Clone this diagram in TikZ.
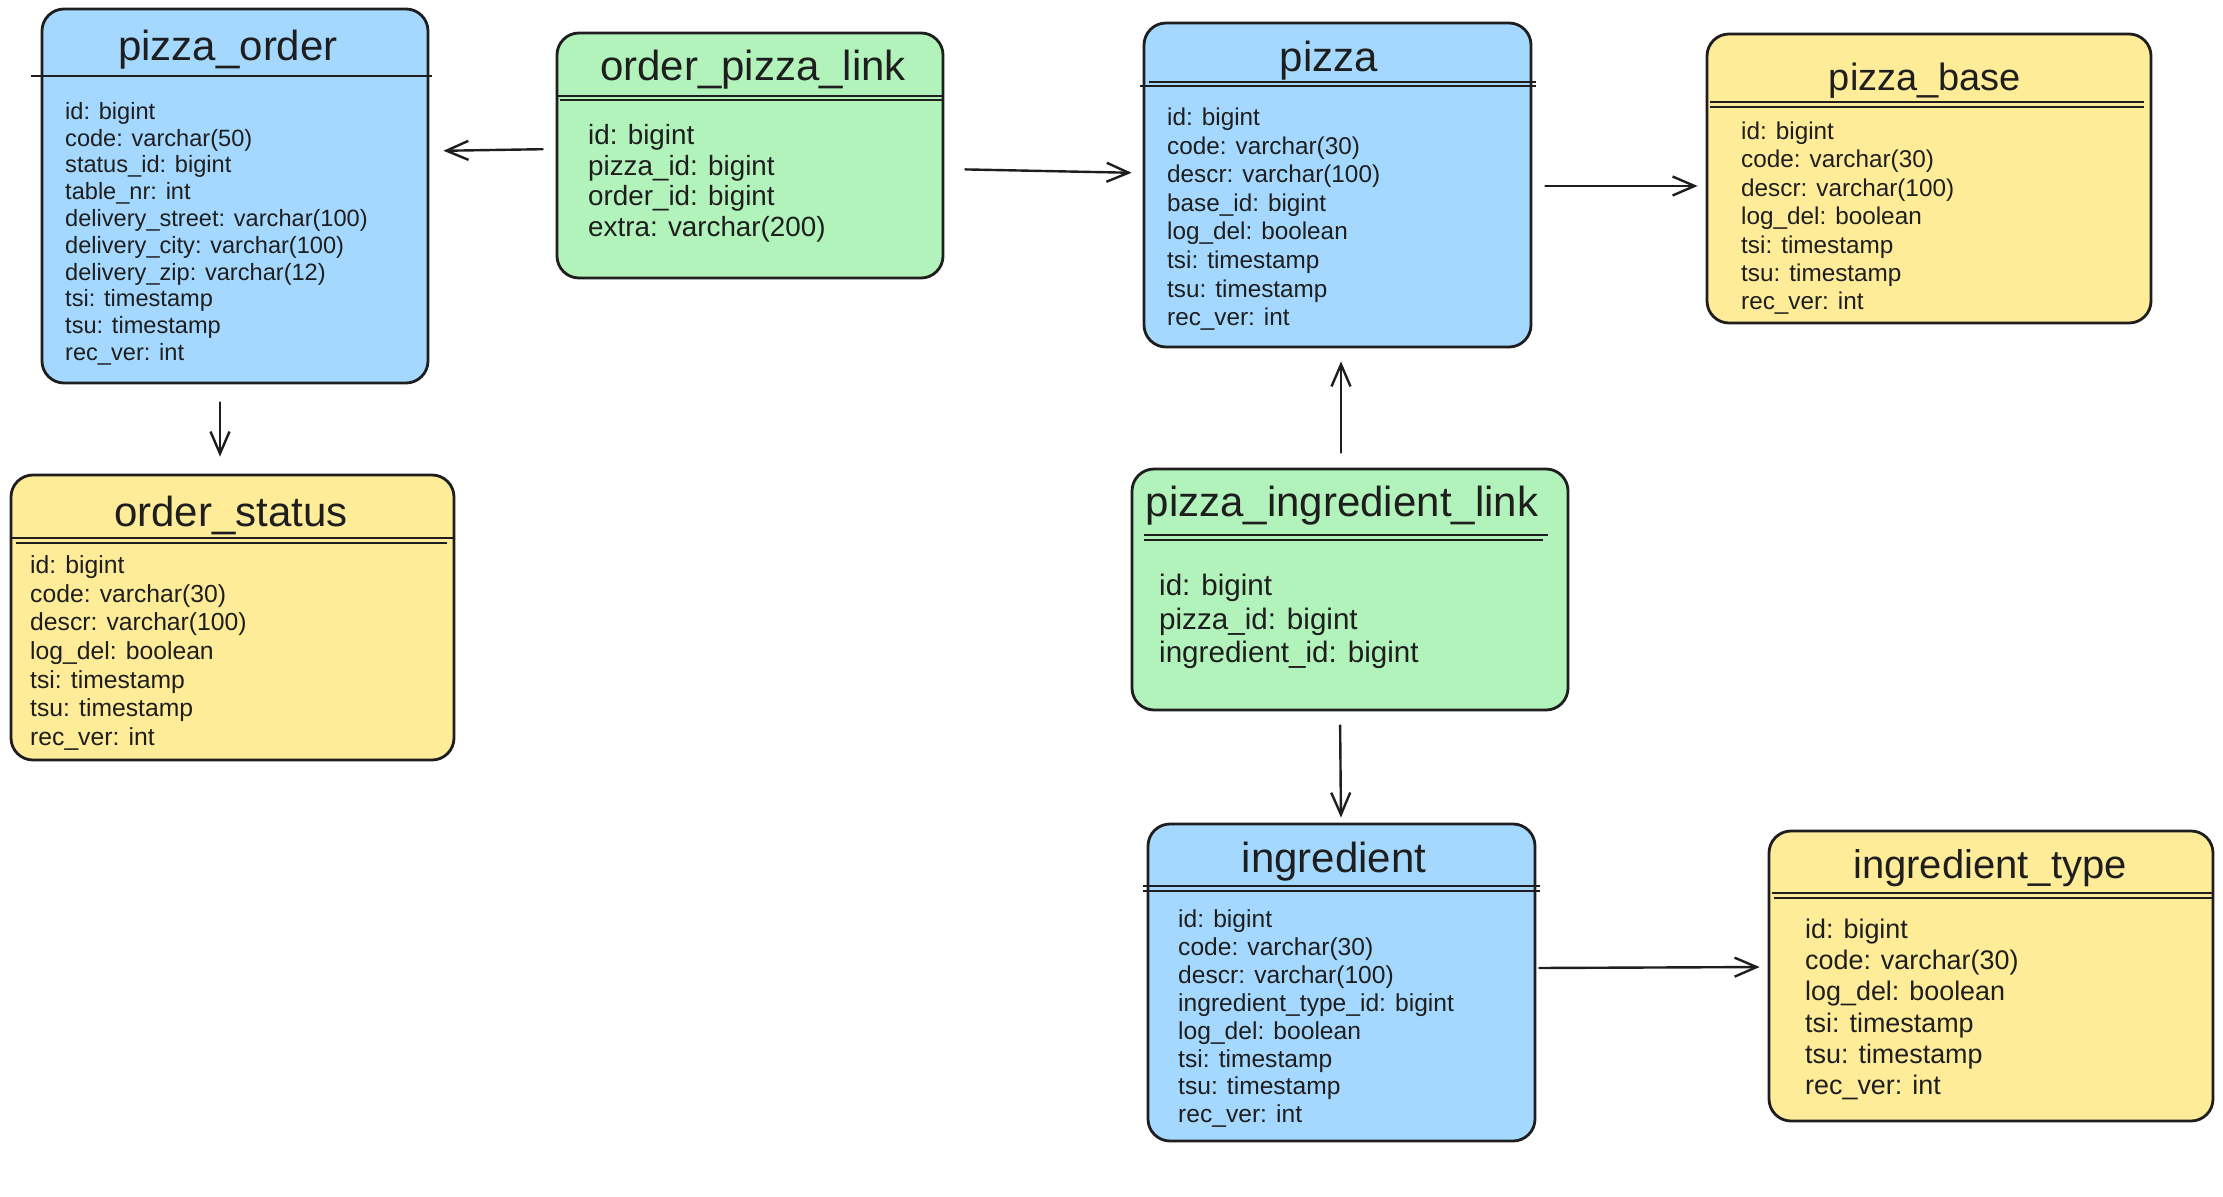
\documentclass[tikz,border=0pt]{standalone}
\usepackage{fontspec}
\setmainfont{Liberation Sans}
\usetikzlibrary{arrows.meta}
\definecolor{ink}{HTML}{1E1E1E}
\definecolor{cblue}{HTML}{A5D8FF}
\definecolor{cgreen}{HTML}{B2F2BB}
\definecolor{cyellow}{HTML}{FFEC99}
\newcommand\mystrut{\rule{0pt}{0.8em}}
\newcommand\fsz[2]{\fontsize{#1}{#2}\selectfont}
\tikzset{
  tbox/.style={draw=ink, line width=2.8pt, rounded corners=22pt, inner sep=0pt},
  ttl/.style={anchor=base, inner sep=0pt, text=ink},
  bodytxt/.style={anchor=north west, inner sep=0pt, align=left, text=ink},
  divl/.style={draw=ink, line width=2.6pt},
  divl2/.style={draw=ink, line width=1.4pt},
  arr/.style={draw=ink, line width=2.4pt, line cap=round, -{Straight Barb[length=22pt,width=19pt]}}
}
\begin{document}
\begin{tikzpicture}[x=1pt,y=-1pt]
\useasboundingbox (0,0) rectangle (2223,1196);
\fill[white] (0,0) rectangle (2223,1196);

% ---------------- pizza_order
\node[tbox, fill=cblue, minimum width=386pt, minimum height=374pt] (po) at (235,196) {};
\node[ttl, font=\fsz{42}{50}] (pot) at (228,61) {pizza\_order};
\draw[divl] ([xshift=-10pt]po.west |- 0,76) -- ([xshift=3pt]po.east |- 0,76);
\node[bodytxt, font=\fsz{23.6}{26.8}] (pob) at (65,100.3) {\mystrut id: bigint\\code: varchar(50)\\status\_id: bigint\\table\_nr: int\\delivery\_street: varchar(100)\\delivery\_city: varchar(100)\\delivery\_zip: varchar(12)\\tsi: timestamp\\tsu: timestamp\\rec\_ver: int};

% ---------------- order_pizza_link
\node[tbox, fill=cgreen, minimum width=386pt, minimum height=245pt] (opl) at (750,155.5) {};
\node[ttl, font=\fsz{42}{50}] (oplt) at (753,81) {order\_pizza\_link};
\draw[divl] (opl.west |- 0,96) -- (opl.east |- 0,96);
\draw[divl2] ([xshift=4pt]opl.west |- 0,100) -- ([xshift=-2pt]opl.east |- 0,100);
\node[bodytxt, font=\fsz{27.8}{30.5}] (oplb) at (588,122.5) {\mystrut id: bigint\\pizza\_id: bigint\\order\_id: bigint\\extra: varchar(200)};

% ---------------- pizza
\node[tbox, fill=cblue, minimum width=387pt, minimum height=324pt] (pz) at (1337.5,185) {};
\node[ttl, font=\fsz{42}{50}] (pzt) at (1329,72) {pizza};
\draw[divl] ([xshift=-3pt]pz.west |- 0,86) -- ([xshift=4pt]pz.east |- 0,86);
\draw[divl2] ([xshift=6pt]pz.west |- 0,82) -- ([xshift=4pt]pz.east |- 0,82);
\node[bodytxt, font=\fsz{24.3}{28.6}] (pzb) at (1167,105.9) {\mystrut id: bigint\\code: varchar(30)\\descr: varchar(100)\\base\_id: bigint\\log\_del: boolean\\tsi: timestamp\\tsu: timestamp\\rec\_ver: int};

% ---------------- pizza_base
\node[tbox, fill=cyellow, minimum width=444pt, minimum height=289pt] (pb) at (1929,178.5) {};
\node[ttl, font=\fsz{38}{46}] (pbt) at (1925,91) {pizza\_base};
\draw[divl] ([xshift=4pt]pb.west |- 0,102) -- ([xshift=-8pt]pb.east |- 0,102);
\draw[divl2] ([xshift=4pt]pb.west |- 0,107) -- ([xshift=-8pt]pb.east |- 0,107);
\node[bodytxt, font=\fsz{24.3}{28.4}] (pbb) at (1741,119.9) {\mystrut id: bigint\\code: varchar(30)\\descr: varchar(100)\\log\_del: boolean\\tsi: timestamp\\tsu: timestamp\\rec\_ver: int};

% ---------------- order_status
\node[tbox, fill=cyellow, minimum width=443pt, minimum height=285pt] (os) at (232.5,617.5) {};
\node[ttl, font=\fsz{42}{50}] (ost) at (231,526) {order\_status};
\draw[divl] ([xshift=2pt]os.west |- 0,538) -- ([xshift=-2pt]os.east |- 0,538);
\draw[divl2] ([xshift=6pt]os.west |- 0,543) -- ([xshift=-8pt]os.east |- 0,543);
\node[bodytxt, font=\fsz{24.7}{28.6}] (osb) at (30,553.7) {\mystrut id: bigint\\code: varchar(30)\\descr: varchar(100)\\log\_del: boolean\\tsi: timestamp\\tsu: timestamp\\rec\_ver: int};

% ---------------- pizza_ingredient_link
\node[tbox, fill=cgreen, minimum width=436pt, minimum height=241pt] (pil) at (1350,589.5) {};
\node[ttl, font=\fsz{42}{50}] (pilt) at (1342,516) {pizza\_ingredient\_link};
\draw[divl] ([xshift=13pt]pil.west |- 0,535) -- ([xshift=-21pt]pil.east |- 0,535);
\draw[divl2] ([xshift=13pt]pil.west |- 0,540) -- ([xshift=-26pt]pil.east |- 0,540);
\node[bodytxt, font=\fsz{29.6}{33.5}] (pilb) at (1159,572) {\mystrut id: bigint\\pizza\_id: bigint\\ingredient\_id: bigint};

% ---------------- ingredient
\node[tbox, fill=cblue, minimum width=387pt, minimum height=317pt] (ing) at (1341.5,982.5) {};
\node[ttl, font=\fsz{42}{50}] (ingt) at (1334,872) {ingredient};
\draw[divl] ([xshift=-4pt]ing.west |- 0,886) -- ([xshift=4pt]ing.east |- 0,886);
\draw[divl2] ([xshift=-4pt]ing.west |- 0,891) -- ([xshift=4pt]ing.east |- 0,891);
\node[bodytxt, font=\fsz{24.6}{27.9}] (ingb) at (1178,907.7) {\mystrut id: bigint\\code: varchar(30)\\descr: varchar(100)\\ingredient\_type\_id: bigint\\log\_del: boolean\\tsi: timestamp\\tsu: timestamp\\rec\_ver: int};

% ---------------- ingredient_type
\node[tbox, fill=cyellow, minimum width=444pt, minimum height=290pt] (it) at (1991,976) {};
\node[ttl, font=\fsz{40}{48}] (itt) at (1990,878) {ingredient\_type};
\draw[divl] ([xshift=4pt]it.west |- 0,893) -- ([xshift=-2pt]it.east |- 0,893);
\draw[divl2] ([xshift=6pt]it.west |- 0,898) -- ([xshift=-2pt]it.east |- 0,898);
\node[bodytxt, font=\fsz{26.9}{31.3}] (itb) at (1805,916.5) {\mystrut id: bigint\\code: varchar(30)\\log\_del: boolean\\tsi: timestamp\\tsu: timestamp\\rec\_ver: int};

% ---------------- connectors
\draw[arr, shorten <=13pt, shorten >=14pt] (opl.west |- 0,149) -- (po.east |- 0,151);
\draw[arr, shorten <=21pt, shorten >=11pt] (opl.east |- 0,169) -- (pz.west |- 0,173);
\draw[arr, shorten <=13pt, shorten >=8pt] (pz.east |- 0,186) -- (pb.west |- 0,186);
\draw[arr, shorten <=18pt, shorten >=17pt] (po.south -| 220,0) -- (os.north -| 220,0);
\draw[arr, shorten <=15pt, shorten >=13pt] (pil.north -| 1341,0) -- (pz.south -| 1341,0);
\draw[arr, shorten <=14pt, shorten >=5pt] (pil.south -| 1340,0) -- (ing.north -| 1341,0);
\draw[arr, shorten <=3pt, shorten >=8pt] (ing.east |- 0,968) -- (it.west |- 0,967);
\end{tikzpicture}
\end{document}
